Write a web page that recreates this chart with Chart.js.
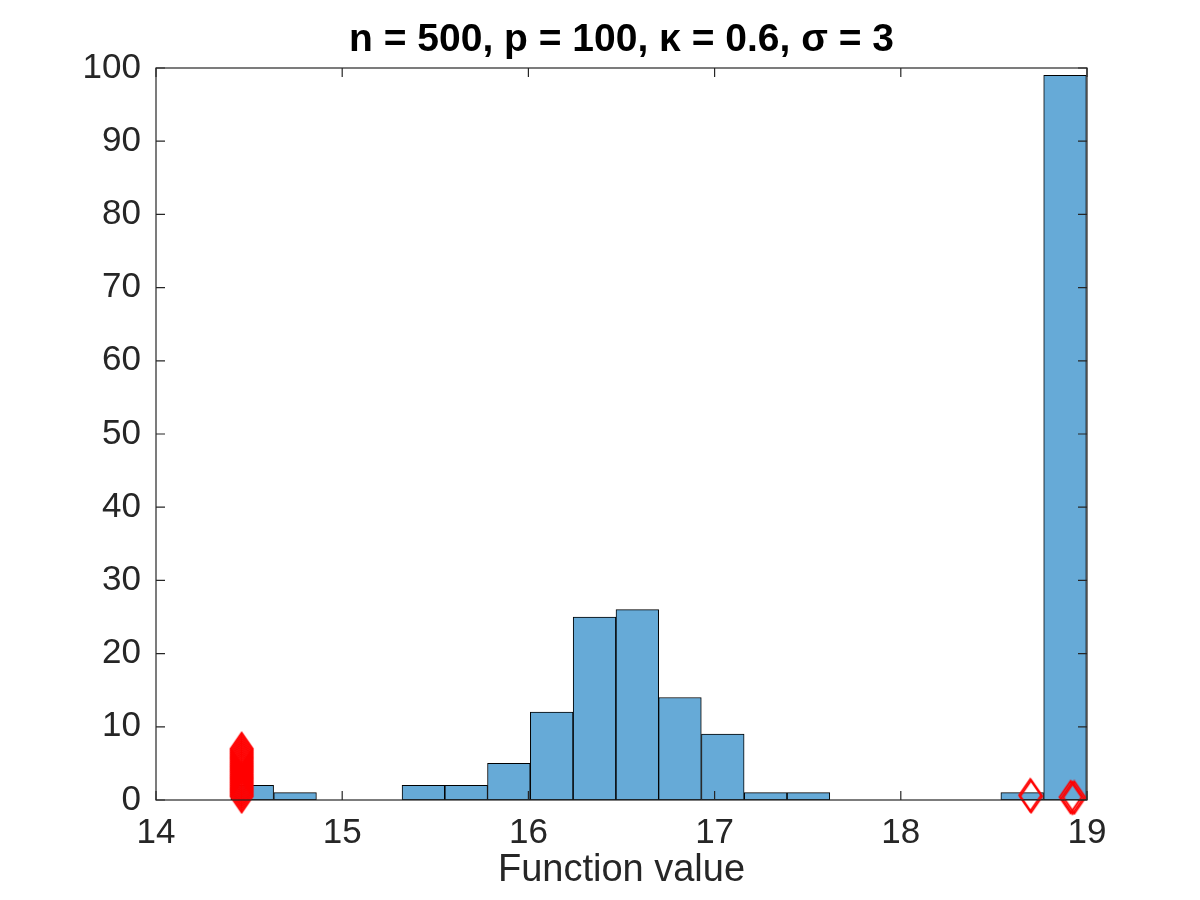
<!DOCTYPE html>
<html>
<head>
<meta charset="utf-8">
<title>Function value histogram</title>
<script src="https://cdn.jsdelivr.net/npm/chart.js@4.4.1/dist/chart.umd.min.js"></script>
<style>
html, body { margin: 0; padding: 0; background: #ffffff; }
#wrap { width: 1200px; height: 900px; }
</style>
</head>
<body>
<div id="wrap"><canvas id="hist"></canvas></div>
<script>
// histogram bins (centre of each bin) and counts
var binCenters = [14.517, 14.747, 14.976, 15.206, 15.436, 15.666, 15.895, 16.125, 16.355, 16.585,
                  16.814, 17.044, 17.274, 17.504, 17.733, 17.963, 18.193, 18.423, 18.652, 18.882];
var binCounts  = [2, 1, 0, 0, 2, 2, 5, 12, 25, 26,
                  14, 9, 1, 1, 0, 0, 0, 0, 1, 99];

// red diamond markers (the column at 14.46 is a dense stack)
var markerX = [14.46, 14.46, 14.46, 14.46, 14.46, 14.46, 14.46, 14.46, 14.46,
               14.46, 14.46, 14.46, 14.46, 14.46, 14.46, 14.46, 14.46, 14.46,
               14.46, 14.46, 14.46, 14.46, 14.46, 14.46, 14.46, 14.46, 14.46,
               18.695, 18.700, 18.912, 18.922, 18.932];
var markerY = [0.5, 0.75, 1.0, 1.25, 1.5, 1.75, 2.0, 2.25, 2.5,
               2.75, 3.0, 3.25, 3.5, 3.75, 4.0, 4.25, 4.5, 4.75,
               5.0, 5.25, 5.5, 5.75, 6.0, 6.25, 6.5, 6.75, 7.0,
               0.65, 0.5, 0.4, 0.3, 0.35];

var xTicks = [14, 15, 16, 17, 18, 19];
var yTicks = [0, 10, 20, 30, 40, 50, 60, 70, 80, 90, 100];

var titleText = 'n = 500, p = 100, \u03BA = 0.6, \u03C3 = 3';
var xLabel = 'Function value';

var axisColor = '#262626';
var fontFamily = '"Liberation Sans", Arial, Helvetica, sans-serif';

function makeDiamond(w, h, color) {
    var c = document.createElement('canvas');
    c.width = w + 4;
    c.height = h + 4;
    var g = c.getContext('2d');
    g.strokeStyle = color;
    g.lineWidth = 2;
    g.beginPath();
    g.moveTo(c.width / 2, 2);
    g.lineTo(c.width - 2, c.height / 2);
    g.lineTo(c.width / 2, c.height - 2);
    g.lineTo(2, c.height / 2);
    g.closePath();
    g.stroke();
    return c;
}

var barData = binCenters.map(function (x, i) { return { x: x, y: binCounts[i] }; });
var markerData = markerX.map(function (x, i) { return { x: x, y: markerY[i] }; });

// box round the axes with inward ticks, matlab style
var boxPlugin = {
    id: 'matlabBox',
    afterDraw: function (chart) {
        var a = chart.chartArea;
        var ctx = chart.ctx;
        var xs = chart.scales.x;
        var ys = chart.scales.y;
        ctx.save();
        ctx.strokeStyle = axisColor;
        ctx.lineWidth = 1.2;
        ctx.strokeRect(a.left, a.top, a.right - a.left, a.bottom - a.top);
        ctx.beginPath();
        xTicks.forEach(function (v) {
            var px = xs.getPixelForValue(v);
            ctx.moveTo(px, a.bottom); ctx.lineTo(px, a.bottom - 9);
            ctx.moveTo(px, a.top); ctx.lineTo(px, a.top + 9);
        });
        yTicks.forEach(function (v) {
            var py = ys.getPixelForValue(v);
            ctx.moveTo(a.left, py); ctx.lineTo(a.left + 9, py);
            ctx.moveTo(a.right, py); ctx.lineTo(a.right - 9, py);
        });
        ctx.stroke();
        ctx.restore();
    }
};

var ctx = document.getElementById('hist').getContext('2d');
var hist_chart = new Chart(ctx, {
    type: 'bar',
    data: {
        datasets: [
            {
                type: 'scatter',
                label: 'Local solutions',
                data: markerData,
                pointStyle: makeDiamond(22, 32, '#ff0000'),
                pointRadius: 11,
                showLine: false,
                clip: false
            },
            {
                type: 'bar',
                label: 'Count',
                data: barData,
                backgroundColor: '#66aad7',
                borderColor: '#000000',
                borderWidth: 1,
                borderSkipped: false,
                barPercentage: 1.0,
                categoryPercentage: 1.0,
                grouped: false
            }
        ]
    },
    options: {
        responsive: true,
        maintainAspectRatio: false,
        animation: false,
        devicePixelRatio: 1,
        layout: { padding: { left: 0, right: 113, top: 0, bottom: 7 } },
        plugins: {
            legend: { display: false },
            tooltip: { enabled: false },
            title: {
                display: true,
                fullSize: false,
                text: titleText,
                color: '#000000',
                font: { family: fontFamily, size: 39, weight: 'bold', lineHeight: 1.2 },
                padding: { top: 17, bottom: 4.2 }
            }
        },
        scales: {
            x: {
                type: 'linear',
                min: 14,
                max: 19,
                offset: false,
                grid: { display: false, drawTicks: false },
                border: { display: false },
                afterBuildTicks: function (s) { s.ticks = xTicks.map(function (v) { return { value: v }; }); },
                ticks: {
                    color: axisColor,
                    padding: 12,
                    maxRotation: 0,
                    font: { family: fontFamily, size: 35 }
                },
                title: {
                    display: true,
                    text: xLabel,
                    color: axisColor,
                    padding: 0,
                    font: { family: fontFamily, size: 38, lineHeight: 1.2 }
                },
                afterFit: function (s) { s.height = 93; }
            },
            y: {
                min: 0,
                max: 100,
                grid: { display: false, drawTicks: false },
                border: { display: false },
                afterBuildTicks: function (s) { s.ticks = yTicks.map(function (v) { return { value: v }; }); },
                ticks: {
                    color: axisColor,
                    padding: 15,
                    font: { family: fontFamily, size: 35 }
                },
                afterFit: function (s) { s.width = 156; }
            }
        }
    },
    plugins: [boxPlugin]
});
</script>
</body>
</html>
